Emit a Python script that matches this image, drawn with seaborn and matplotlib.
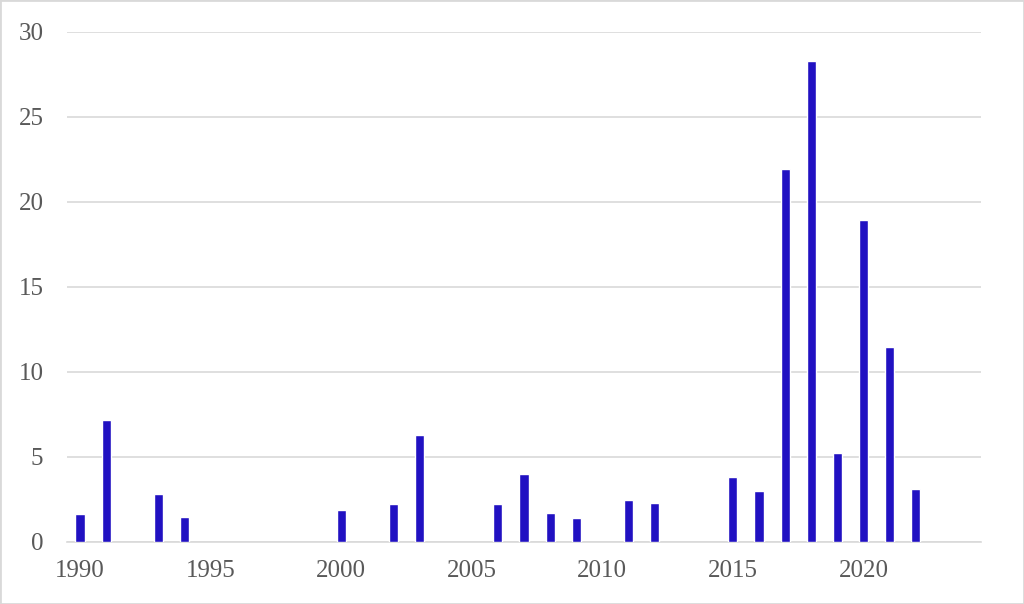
import matplotlib
matplotlib.use("Agg")
import matplotlib.pyplot as plt
import seaborn as sns
import pandas as pd
from matplotlib.patches import Rectangle

years = [1990, 1991, 1993, 1994, 2000, 2002, 2003, 2006, 2007, 2008, 2009,
         2011, 2012, 2015, 2016, 2017, 2018, 2019, 2020, 2021, 2022]
values = [1.6, 7.13, 2.79, 1.46, 1.85, 2.19, 6.26, 2.22, 3.95, 1.66, 1.38,
          2.42, 2.26, 3.78, 2.99, 21.93, 28.3, 5.21, 18.91, 11.42, 3.1]
x_ticks = [1990, 1995, 2000, 2005, 2010, 2015, 2020]
y_ticks = [0, 5, 10, 15, 20, 25, 30]

sns.set_theme(style="white")
plt.rcParams['font.family'] = ['Liberation Serif', 'DejaVu Serif']

df = pd.DataFrame({"year": years, "value": values})

fig = plt.figure(figsize=(10.24, 6.04), dpi=100)
ax = fig.add_axes([67/1024, 1 - 541.5/604, (981 - 67)/1024, (541.5 - 31.7)/604])

sns.barplot(data=df, x="year", y="value", native_scale=True, width=0.35,
            color="#2111C2", saturation=1, ax=ax, errorbar=None, zorder=3)

ax.set_xlim(1989.5, 2024.5)
ax.set_ylim(0, 30)
ax.set_xticks(x_ticks)
ax.set_xticklabels([str(t) for t in x_ticks])
ax.set_yticks(y_ticks)
ax.set_yticklabels([str(t) for t in y_ticks])
ax.yaxis.grid(True, color="#d9d9d9", linewidth=1.2, zorder=0)
ax.xaxis.grid(False)
for s in ["top", "right", "left"]:
    ax.spines[s].set_visible(False)
ax.spines["bottom"].set_color("#d9d9d9")
ax.spines["bottom"].set_linewidth(1.2)
ax.tick_params(axis="both", length=0, labelsize=18, labelcolor="#595959")
ax.tick_params(axis="x", pad=13)
ax.tick_params(axis="y", pad=17)
ax.set_xlabel("")
ax.set_ylabel("")

fig.patches.append(Rectangle((0, 0), 1, 1, transform=fig.transFigure,
                             fill=False, edgecolor="#d9d9d9", linewidth=2))

fig.savefig("out.png", dpi=100)
